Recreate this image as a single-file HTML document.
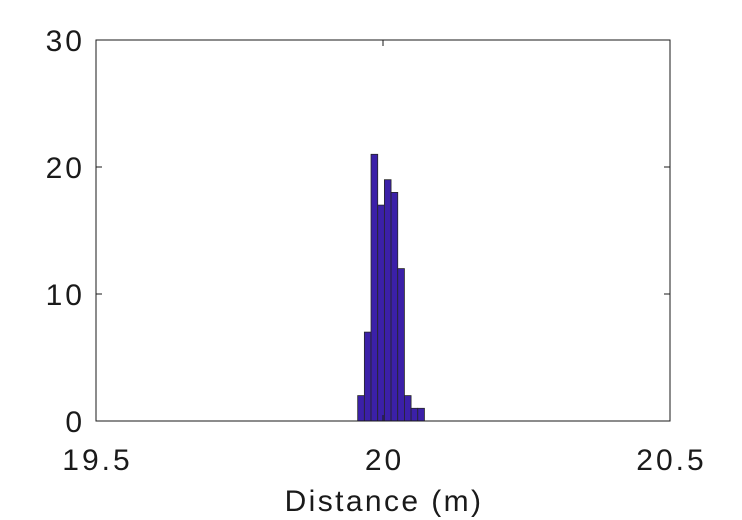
<!DOCTYPE html>
<html><head><meta charset="utf-8"><style>
body{margin:0;background:#fff;}
svg{display:block;font-family:"Liberation Sans",sans-serif;}
</style></head><body>
<svg id="chart" width="742" height="520">
<rect x="96" y="40" width="574" height="381" fill="#fff" stroke="none"/>
<g id="bars"></g>
<rect x="96" y="40" width="574" height="381" fill="none" stroke="#1a1a1a" stroke-width="1"/>
<g id="axes"></g>
<text x="384" y="511" text-anchor="middle" font-size="30" letter-spacing="2.4" fill="#1a1a1a">Distance (m)</text>
</svg>
<script>
const binStart = 19.9559;
const binWidth = 0.01163;
const counts = [2, 7, 21, 17, 19, 18, 12, 2, 1, 1];
const xTicks = [19.5, 20, 20.5];
const xTickLabels = ["19.5", "20", "20.5"];
const yTicks = [0, 10, 20, 30];
const yTickLabels = ["0", "10", "20", "30"];

const X0 = 96, X1 = 670, Y0 = 421, Y1 = 40;
const xs = v => X0 + (v - 19.5) / 1.0 * (X1 - X0);
const ys = v => Y0 - v / 30 * (Y0 - Y1);
const NS = "http://www.w3.org/2000/svg";
const bars = document.getElementById('bars');
counts.forEach((c, i) => {
  const r = document.createElementNS(NS, 'rect');
  const a = xs(binStart + i * binWidth), b = xs(binStart + (i + 1) * binWidth);
  r.setAttribute('x', a); r.setAttribute('width', b - a);
  r.setAttribute('y', ys(c)); r.setAttribute('height', ys(0) - ys(c));
  r.setAttribute('fill', '#3b20a8'); r.setAttribute('stroke', '#262626'); r.setAttribute('stroke-width', '0.8');
  
  
  bars.appendChild(r);
});
const axes = document.getElementById('axes');
function line(x1, y1, x2, y2) {
  const l = document.createElementNS(NS, 'line');
  l.setAttribute('x1', x1); l.setAttribute('y1', y1); l.setAttribute('x2', x2); l.setAttribute('y2', y2);
  l.setAttribute('stroke', '#1a1a1a'); l.setAttribute('stroke-width', '1');
  
  
  axes.appendChild(l);
}
function text(x, y, s, anchor, name) {
  const t = document.createElementNS(NS, 'text');
  t.setAttribute('x', x); t.setAttribute('y', y); t.setAttribute('text-anchor', anchor);
  t.setAttribute('font-size', '30'); t.setAttribute('fill', '#1a1a1a');
  t.setAttribute('letter-spacing', '3');
  t.textContent = s;
  
  
  axes.appendChild(t);
}
xTicks.forEach((v, i) => {
  const x = xs(v);
  line(x, Y0, x, Y0 - 6); line(x, Y1, x, Y1 + 6);
  text(x + 1.5, 470, xTickLabels[i], 'middle', 'x-tick-label');
});
yTicks.forEach((v, i) => {
  const y = ys(v);
  line(X0, y, X0 + 6, y); line(X1, y, X1 - 6, y);
  text(85, y + 11, yTickLabels[i], 'end', 'y-tick-label');
});
</script>
</body></html>
